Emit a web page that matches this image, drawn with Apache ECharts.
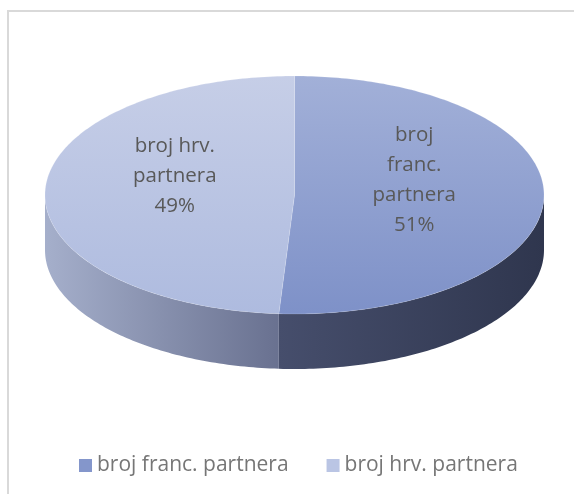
<!DOCTYPE html>
<html>
<head>
<meta charset="utf-8">
<script src="https://cdn.jsdelivr.net/npm/echarts@6/dist/echarts.min.js"></script>
<style>
  html, body { margin: 0; padding: 0; background: #ffffff; }
  #chart { width: 574px; height: 494px; }
</style>
</head>
<body>
<div id="chart"></div>
<script>
// Partner counts, split by country
const categories = ['broj franc. partnera', 'broj hrv. partnera'];
const values = [51, 49];
const sliceLabels = ['broj\nfranc.\npartnera', 'broj hrv.\npartnera'];

// Colours per slice: top face (gradient top→bottom), side wall (left→right), legend swatch
const topColors = [['#a2b0d8', '#7e91c8'], ['#c6cee7', '#aebbdf']];
const sideColors = [['#464e6c', '#2f364e'], ['#a5afcb', '#697190']];
const swatchColors = ['#8496cb', '#bac5e4'];

// Tilted-disc geometry
const CX = 294.5, CY = 195, RX = 249.5, RY = 119, DEPTH = 55;
const DEG = Math.PI / 180;
const FONT = '"Open Sans"';

const total = values.reduce((a, b) => a + b, 0);
const starts = [];
values.reduce((acc, v) => { starts.push(acc); return acc + v; }, 0);

// angle 0 = 12 o'clock, increasing clockwise
function pt(theta, dy) {
  return [CX + RX * Math.sin(theta), CY - RY * Math.cos(theta) + dy];
}
function arc(a0, a1, dy) {
  const pts = [];
  const n = Math.max(2, Math.ceil(Math.abs(a1 - a0) / DEG));
  for (let i = 0; i <= n; i++) pts.push(pt(a0 + (a1 - a0) * i / n, dy));
  return pts;
}

function makeRender(idx) {
  return function (params, api) {
    const a0 = starts[idx] / total * 2 * Math.PI;
    const a1 = (starts[idx] + values[idx]) / total * 2 * Math.PI;
    const children = [];

    // visible front wall: the part of the rim facing the viewer
    const s0 = Math.max(a0, Math.PI / 2), s1 = Math.min(a1, 1.5 * Math.PI);
    if (s1 > s0) {
      const upper = arc(s0, s1, 0);
      const lower = arc(s1, s0, DEPTH);
      const xs = upper.map(p => p[0]);
      children.push({
        type: 'polygon',
        z2: 1,
        shape: { points: upper.concat(lower) },
        style: {
          fill: new echarts.graphic.LinearGradient(Math.min(...xs), 0, Math.max(...xs), 0, [
            { offset: 0, color: sideColors[idx][0] },
            { offset: 1, color: sideColors[idx][1] }
          ], true)
        }
      });
    }

    // top face
    children.push({
      type: 'polygon',
      z2: 2,
      shape: { points: [[CX, CY]].concat(arc(a0, a1, 0)) },
      style: {
        fill: new echarts.graphic.LinearGradient(0, CY - RY, 0, CY + RY, [
          { offset: 0, color: topColors[idx][0] },
          { offset: 1, color: topColors[idx][1] }
        ], true),
        stroke: 'rgba(255,255,255,0.25)',
        lineWidth: 0.6
      }
    });

    // slice label
    const mid = (a0 + a1) / 2;
    const lp = [CX + RX * 0.48 * Math.sin(mid), CY - RY * 0.48 * Math.cos(mid) - 17];
    children.push({
      type: 'text',
      z2: 3,
      x: lp[0],
      y: lp[1],
      style: {
        text: sliceLabels[idx] + '\n' + Math.round(values[idx] / total * 100) + '%',
        fill: '#595959',
        font: '20.5px ' + FONT,
        lineHeight: 30,
        align: 'center',
        verticalAlign: 'middle'
      }
    });

    return { type: 'group', children: children };
  };
}

const chart = echarts.init(document.getElementById('chart'), null, { renderer: 'canvas' });
chart.setOption({
  animation: false,
  backgroundColor: '#ffffff',
  graphic: [{
    type: 'rect',
    shape: { x: 8, y: 11, width: 700, height: 700 },
    style: { fill: 'none', stroke: '#d9d9d9', lineWidth: 2 },
    silent: true,
    z: -10
  }],
  legend: {
    data: categories,
    left: 79,
    top: 455,
    padding: 0,
    icon: 'rect',
    itemWidth: 13,
    itemHeight: 13,
    itemGap: 38,
    textStyle: { color: '#767676', fontSize: 21, fontFamily: 'Open Sans' }
  },
  series: categories.map((name, i) => ({
    type: 'custom',
    name: name,
    coordinateSystem: 'none',
    itemStyle: { color: swatchColors[i] },
    renderItem: makeRender(i),
    data: [[values[i]]]
  }))
});
</script>
</body>
</html>
